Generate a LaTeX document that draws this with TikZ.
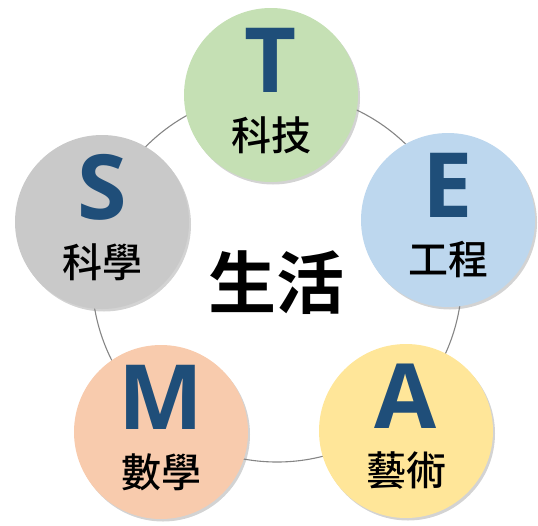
\documentclass[tikz,border=0pt]{standalone}
\usepackage{fontspec}
\setmainfont{Open Sans}
\newfontfamily\cjk{Noto Sans CJK TC}[UprightFont={* Medium}, BoldFont={* Bold}]
\usepackage{xcolor}
\usetikzlibrary{shadows}
\definecolor{letterblue}{HTML}{1F4E79}
\definecolor{ringgray}{HTML}{858585}
\definecolor{ballT}{HTML}{C5E0B4}
\definecolor{ballE}{HTML}{BDD7EE}
\definecolor{ballA}{HTML}{FFE699}
\definecolor{ballM}{HTML}{F8CBAD}
\definecolor{ballS}{HTML}{C9C9C9}

\begin{document}
\begin{tikzpicture}[x=1pt,y=-1pt,
    ball/.style={circle, minimum size=174pt, inner sep=0pt,
        drop shadow={shadow xshift=2pt, shadow yshift=-2.5pt, opacity=0.35}},
    letter/.style={font=\bfseries\fontsize{90}{90}\selectfont, text=letterblue, inner sep=0pt},
    word/.style={font=\cjk\fontsize{40}{40}\selectfont, inner sep=0pt}]
    \useasboundingbox (0,0) rectangle (538,525);
    % the ring
    \node[circle, draw=ringgray, line width=1.1pt, minimum size=370pt, inner sep=0pt] (ring) at (277,277) {};
    % the five balls
    \foreach \n/\x/\y/\c/\l/\w in {t/271/95/ballT/T/科技, e/448/220/ballE/E/工程,
        a/406/431/ballA/A/藝術, m/161/432/ballM/M/數學, s/102/222/ballS/S/科學} {
        \node[ball, fill=\c] (\n) at (\x,\y) {};
        \node[letter] (\n-letter) at (\x,{\y-35}) {\l};
        \node[word] (\n-word) at (\x,{\y+40}) {\w};
    }
    \node[font=\cjk\bfseries\fontsize{68}{68}\selectfont, inner sep=0pt] (life) at (276,283) {生活};
\end{tikzpicture}
\end{document}
